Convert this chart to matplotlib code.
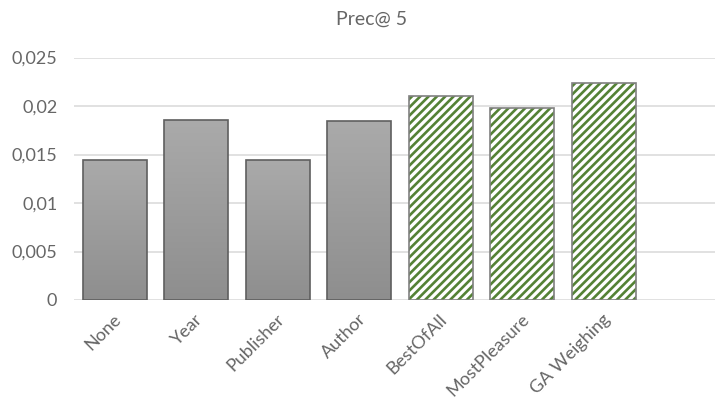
import numpy as np
import matplotlib
matplotlib.use('Agg')
import matplotlib.pyplot as plt
import matplotlib.transforms as mtransforms
from matplotlib.ticker import FuncFormatter
from matplotlib.colors import LinearSegmentedColormap

# Precision at 5 for each weighting method
methods = ['None', 'Year', 'Publisher', 'Author', 'BestOfAll', 'MostPleasure', 'GA Weighing']
prec5 = [0.0144, 0.01853, 0.01443, 0.01843, 0.02106, 0.01984, 0.02233]
hatched = [False, False, False, False, True, True, True]

plt.rcParams['font.family'] = ['Lato', 'DejaVu Sans']
plt.rcParams['hatch.linewidth'] = 1.9

text_col = '#666666'
grid_col = '#d9d9d9'
green = '#548235'

fig = plt.figure(figsize=(7.15, 3.98), dpi=100)
ax = fig.add_axes([74 / 715, 1 - 300 / 398, 1 - 74 / 715, (300 - 57.5) / 398])

x = np.arange(len(methods))
width = 0.785

# vertical gradient used for the plain grey bars
grad = np.linspace(0, 1, 256).reshape(-1, 1)
grey_cmap = LinearSegmentedColormap.from_list('greys', ['#8e8e8e', '#aaaaaa'])

for xi, v, h in zip(x, prec5, hatched):
    if h:
        # hatch takes the edge colour, so draw the outline separately
        ax.bar(xi, v, width, facecolor='white', edgecolor=green,
               hatch='////', linewidth=0, zorder=3)
        ax.bar(xi, v, width, facecolor='none', edgecolor='#808080',
               linewidth=1.2, zorder=4)
    else:
        bar = ax.bar(xi, v, width, facecolor='none', edgecolor='#5f5f5f',
                     linewidth=1.2, zorder=4)[0]
        im = ax.imshow(grad, cmap=grey_cmap, origin='lower', aspect='auto',
                       extent=[xi - width / 2, xi + width / 2, 0, v], zorder=3)
        im.set_clip_path(bar)

ax.set_xlim(-0.5, 7.365)
ax.set_ylim(0, 0.025)
ax.set_yticks(np.arange(0, 0.0251, 0.005))
ax.yaxis.set_major_formatter(FuncFormatter(
    lambda v, p: '0' if v == 0 else f'{v:g}'.replace('.', ',')))
ax.grid(axis='y', color=grid_col, linewidth=1.1, zorder=0)
ax.set_axisbelow(True)
for s in ['top', 'right', 'left', 'bottom']:
    ax.spines[s].set_visible(False)
ax.tick_params(axis='y', length=0, pad=12, labelsize=13, labelcolor=text_col)
ax.tick_params(axis='x', length=0, pad=12, labelsize=13, labelcolor=text_col)

ax.set_xticks(x)
ax.set_xticklabels(methods, rotation=45, ha='right', va='center',
                   rotation_mode='anchor')
shift = mtransforms.ScaledTranslation(4 / 100, 0, fig.dpi_scale_trans)
for lbl in ax.get_xticklabels():
    lbl.set_transform(lbl.get_transform() + shift)

fig.text(372 / 715, 1 - 19 / 398, 'Prec@ 5', ha='center', va='center',
         fontsize=14, color=text_col)

fig.savefig('out.png', dpi=100)
